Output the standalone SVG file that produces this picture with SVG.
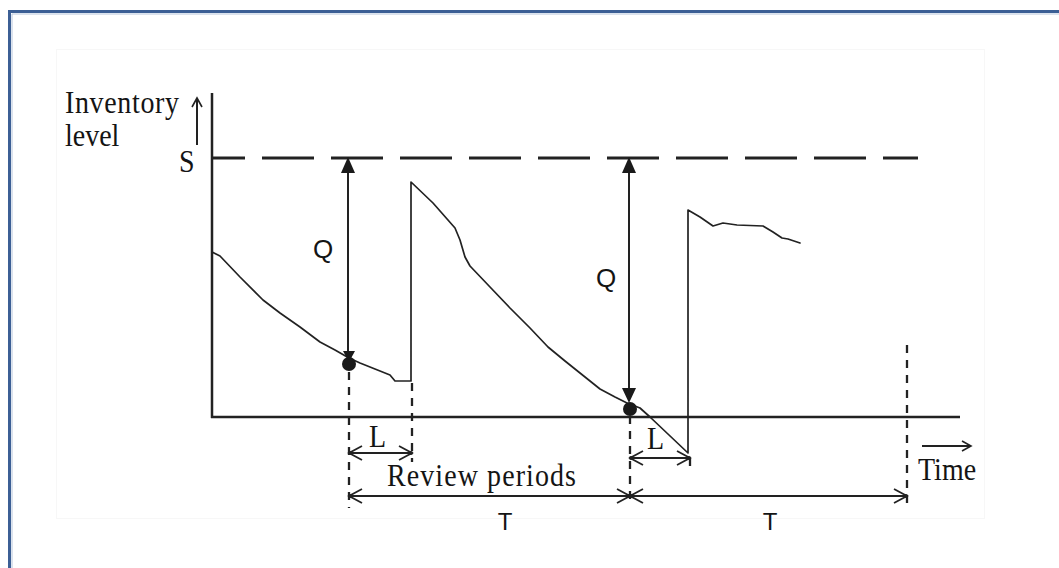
<svg xmlns="http://www.w3.org/2000/svg" width="1059" height="568" viewBox="0 0 1059 568">
<style>
.serif{font-family:"Liberation Serif","Times New Roman",serif;font-size:28px;fill:#141414}
.sans{font-family:"Liberation Sans",Arial,sans-serif;fill:#141414}
.ax{stroke:#222;stroke-width:2.5;fill:none}
.crv{stroke:#222;stroke-width:1.7;fill:none;stroke-linejoin:round;stroke-linecap:round}
.ln{stroke:#222;stroke-width:2;fill:none}
.dsh{stroke:#222;stroke-width:2.3;fill:none;stroke-dasharray:8 7}
.blk{fill:#1a1a1a}
</style>
<defs>
<marker id="open" markerUnits="userSpaceOnUse" viewBox="-15 -9 17 18" refX="0" refY="0" markerWidth="17" markerHeight="18" orient="auto-start-reverse">
<path d="M-13,-7 L0,0 L-13,7" fill="none" stroke="#222" stroke-width="1.8"/>
<circle cx="-1" cy="0" r="2" fill="#222"/>
</marker>
<marker id="small" markerUnits="userSpaceOnUse" viewBox="-10 -7 12 14" refX="0" refY="0" markerWidth="12" markerHeight="14" orient="auto">
<path d="M-9,-5 L0,0 L-9,5" fill="none" stroke="#222" stroke-width="1.6"/>
</marker>
</defs>
<rect width="1059" height="568" fill="#fff"/>
<g id="frame">
<path d="M9.5,568 V11.5 H1059" fill="none" stroke="#3c5f95" stroke-width="3"/>
<path d="M12,568 V14 H1059" fill="none" stroke="#b7c6dc" stroke-width="1"/>
<rect x="56.5" y="49.5" width="928" height="469" fill="none" stroke="#f7f7f7" stroke-width="1"/>
</g>
<g id="axes">
<line class="ax" x1="212" y1="93" x2="212" y2="418"/>
<line class="ax" x1="211" y1="417" x2="960" y2="417"/>
<line x1="212" y1="158" x2="918" y2="158" stroke="#222" stroke-width="3" stroke-dasharray="52 17" stroke-dashoffset="19"/>
<line class="ln" x1="197" y1="145" x2="197" y2="98" marker-end="url(#small)"/>
<line class="ln" x1="922" y1="446" x2="971" y2="446" marker-end="url(#small)"/>
</g>
<g id="inventory-curve">
<path class="crv" d="M212,252 L220,256 L240,277 L263,300 L280,313 L300,327 L320,342 L335,350 L349,358 L360,363 L375,369 L390,375 L395,381 L411,381 L411,182 L433,203 L455,228 L460,240 L465,257 L470,266 L490,287 L510,308 L530,328 L548,347 L565,361 L580,373 L600,389 L615,397 L627,403 L640,408 L650,417 L688,453 L688,210 L700,217 L713,226 L723,223 L737,225 L763,226 L773,232 L782,238 L788,239 L800,243"/>
</g>
<g id="connectors">
<line class="ln" x1="348" y1="172" x2="348" y2="352"/>
<path class="blk" d="M348,157 L341,173 L355,173 Z"/>
<path class="blk" d="M349,362 L343,351 L355,351 Z"/>
<circle class="blk" cx="349" cy="364" r="7"/>
<line class="ln" x1="629" y1="172" x2="629" y2="390"/>
<path class="blk" d="M629,157 L622,173 L636,173 Z"/>
<path class="blk" d="M629,403 L622,388 L636,388 Z"/>
<circle class="blk" cx="630" cy="409" r="7"/>
<line class="dsh" x1="349" y1="372" x2="349" y2="508"/>
<line class="dsh" x1="412" y1="383" x2="412" y2="462"/>
<line class="dsh" x1="630" y1="416" x2="630" y2="506"/>
<line class="dsh" x1="690" y1="458" x2="690" y2="472"/>
<line class="dsh" x1="907" y1="345" x2="907" y2="505"/>
<line class="ln" x1="349" y1="453" x2="412" y2="453" marker-start="url(#open)" marker-end="url(#open)"/>
<line class="ln" x1="630" y1="458" x2="690" y2="458" marker-start="url(#open)" marker-end="url(#open)"/>
<line class="ln" x1="349" y1="496" x2="630" y2="496" marker-start="url(#open)" marker-end="url(#open)"/>
<line class="ln" x1="630" y1="496" x2="907" y2="496" marker-start="url(#open)" marker-end="url(#open)"/>
</g>
<g id="labels">
<text class="serif" transform="translate(65,113) scale(1,1.12)" textLength="114">Inventory</text>
<text class="serif" transform="translate(65,146) scale(1,1.12)">level</text>
<text class="serif" transform="translate(179,172) scale(1,1.12)">S</text>
<text class="sans" x="313" y="258" font-size="26">Q</text>
<text class="sans" x="596" y="287" font-size="26">Q</text>
<text class="serif" transform="translate(369,447) scale(1,1.12)">L</text>
<text class="serif" transform="translate(647,449) scale(1,1.12)">L</text>
<text class="serif" transform="translate(387,486) scale(1,1.12)" textLength="189">Review periods</text>
<text class="serif" transform="translate(918,480) scale(1,1.15)">Time</text>
<text class="sans" x="505" y="530" font-size="24" text-anchor="middle">T</text>
<text class="sans" x="770" y="530" font-size="24" text-anchor="middle">T</text>
</g>
</svg>
